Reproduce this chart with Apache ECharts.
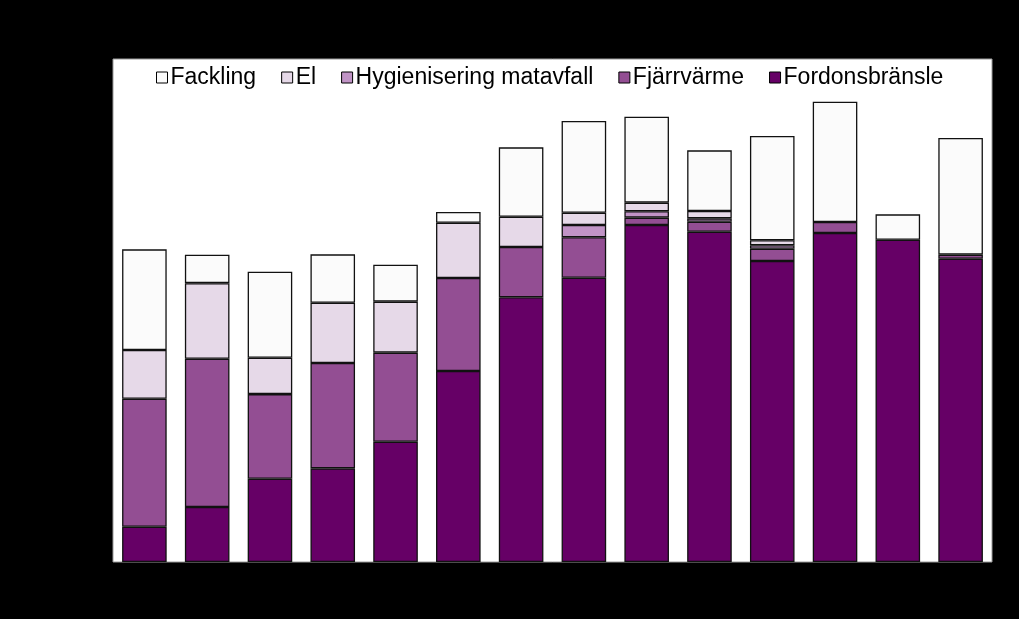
<!DOCTYPE html>
<html>
<head>
<meta charset="utf-8">
<script src="https://cdn.jsdelivr.net/npm/echarts@6/dist/echarts.min.js"></script>
<style>
html,body{margin:0;padding:0;background:#000;}
#c{width:1019px;height:619px;}
</style>
</head>
<body>
<div id="c"></div>
<script>
const categories = ['2005','2006','2007','2008','2009','2010','2011','2012','2013','2014','2015','2016','2017','2018'];
const yTicks = [0,100,200,300,400,500];
const fordonsbransle = [35.1,54.7,82.8,93.1,119.6,189.9,263.1,282.6,335.0,328.3,299.2,327.0,320.4,301.5];
const fjarrvarme =     [127.2,147.4,84.1,104.7,88.5,92.4,50.0,40.2,7.3,9.9,12.2,10.9,null,4.0];
const hygienisering =  [null,null,null,null,null,null,null,12.2,6.3,3.4,3.4,null,null,null];
const el =             [48.4,75.1,36.1,59.9,50.7,55.0,30.1,12.2,8.6,7.3,5.0,null,null,null];
const fackling =       [100.1,28.2,85.5,48.1,36.8,10.6,69.0,91.2,85.5,60.3,103.7,119.6,25.2,116.0];

const names = ['Fackling','El','Hygienisering matavfall','Fjärrvärme','Fordonsbränsle'];
const colors = {
  'Fackling':'#fbfbfb',
  'El':'#e6d9e8',
  'Hygienisering matavfall':'#c194c6',
  'Fjärrvärme':'#934e93',
  'Fordonsbränsle':'#660066'
};
const stackOrder = [
  ['Fordonsbränsle', fordonsbransle],
  ['Fjärrvärme', fjarrvarme],
  ['Hygienisering matavfall', hygienisering],
  ['El', el],
  ['Fackling', fackling]
];

const chart = echarts.init(document.getElementById('c'), null, {renderer:'canvas'});
chart.setOption({
  backgroundColor:'#000',
  animation:false,
  textStyle:{fontFamily:'Liberation Sans, Arial, sans-serif'},
  grid:{left:113,right:27,top:59,bottom:57,show:true,backgroundColor:'#fff',borderColor:'#9a9a9a',borderWidth:1},
  legend:{
    data:names,
    top:61,
    left:151,
    itemWidth:11,
    itemHeight:11,
    itemGap:25,
    icon:'rect',
    itemStyle:{borderColor:'#000',borderWidth:1},
    textStyle:{color:'#000',fontSize:23,fontFamily:'Liberation Sans, Arial, sans-serif',padding:[0,0,0,-2]}
  },
  xAxis:{
    type:'category',
    data:categories,
    axisLine:{show:false},
    axisTick:{show:false},
    axisLabel:{color:'#000',fontSize:16}
  },
  yAxis:{
    type:'value',
    min:yTicks[0],
    max:yTicks[yTicks.length-1],
    interval:100,
    splitLine:{show:false},
    axisLine:{show:false},
    axisTick:{show:false},
    axisLabel:{color:'#000',fontSize:16}
  },
  series: stackOrder.map(([n,d]) => ({
    name:n,
    type:'bar',
    stack:'total',
    data:d,
    barCategoryGap:'29%',
    itemStyle:{color:colors[n],borderColor:'#111',borderWidth:1.3}
  }))
});
</script>
</body>
</html>
